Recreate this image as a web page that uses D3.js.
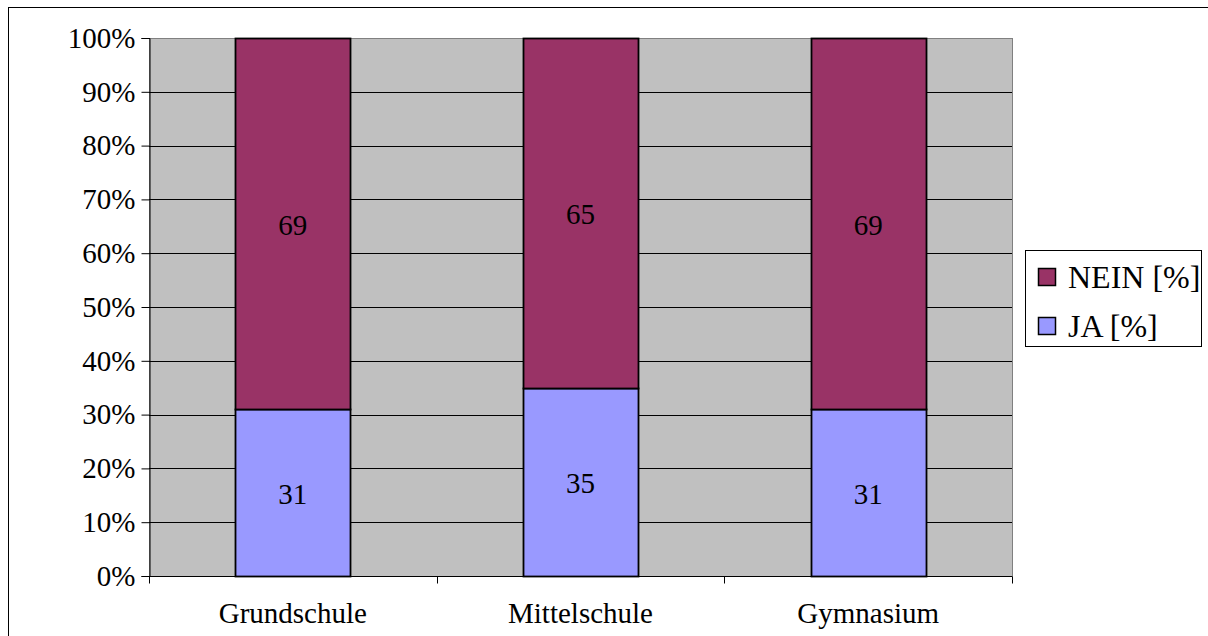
<!DOCTYPE html>
<html>
<head>
<meta charset="utf-8">
<script src="https://cdn.jsdelivr.net/npm/d3@7"></script>
</head>
<body style="margin:0; background:#fff">
<svg id="chart" width="1208" height="636"></svg>
<script>
var categories = ['Grundschule', 'Mittelschule', 'Gymnasium'];
var jaValues = [31, 35, 31];
var neinValues = [69, 65, 69];
var yTicks = [0, 10, 20, 30, 40, 50, 60, 70, 80, 90, 100];
var seriesNames = ['NEIN [%]', 'JA [%]'];
var seriesColors = ['#993366', '#9999FF'];

var svg = d3.select('#chart');
var fontSize = '29px';

function serifText(sel) {
  sel.style('font-family', 'Liberation Serif')
    .style('font-size', fontSize)
    .attr('fill', '#000');
}

// outer frame
svg.append('rect')
  .attr('x', 8.5).attr('y', 7.5)
  .attr('width', 1300).attr('height', 700)
  .attr('fill', 'none').attr('stroke', '#000');

var plot = { left: 149, top: 38, right: 1012, bottom: 576 };

var x = d3.scaleBand()
  .domain(categories)
  .range([plot.left, plot.right])
  .paddingInner(0.6)
  .paddingOuter(0.3);

var xCat = d3.scaleBand().domain(categories).range([plot.left, plot.right]);

var y = d3.scaleLinear().domain([0, 100]).range([plot.bottom, plot.top]);

// plot background
svg.append('rect')
  .attr('x', plot.left + 0.5).attr('y', plot.top + 0.5)
  .attr('width', plot.right - plot.left).attr('height', plot.bottom - plot.top)
  .attr('fill', '#C0C0C0').attr('stroke', '#808080');

// gridlines
svg.append('g').selectAll('line')
  .data(yTicks.slice(1, -1))
  .enter().append('line')
  .attr('x1', plot.left).attr('x2', plot.right)
  .attr('y1', function(d) { return Math.round(y(d)) + 0.5; })
  .attr('y2', function(d) { return Math.round(y(d)) + 0.5; })
  .attr('stroke', '#000');

// stacked bars
var stackData = categories.map(function(c, i) {
  return { cat: c, ja: jaValues[i], nein: neinValues[i] };
});
var stack = d3.stack().keys(['ja', 'nein'])(stackData);
var colorFor = { ja: '#9999FF', nein: '#993366' };

stack.forEach(function(layer) {
  var g = svg.append('g');
  g.selectAll('rect')
    .data(layer)
    .enter().append('rect')
    .attr('x', function(d) { return Math.round(x(d.data.cat)) + 0.5; })
    .attr('y', function(d) { return Math.round(y(d[1])) + 0.5; })
    .attr('width', Math.round(x.bandwidth()))
    .attr('height', function(d) { return Math.round(y(d[0])) - Math.round(y(d[1])); })
    .attr('fill', colorFor[layer.key])
    .attr('stroke', '#000')
    .attr('stroke-width', 1.8);
  g.selectAll('text')
    .data(layer)
    .enter().append('text')
    .attr('x', function(d) { return x(d.data.cat) + x.bandwidth() / 2; })
    .attr('y', function(d) { return (y(d[0]) + y(d[1])) / 2 + 1; })
    .attr('dy', '0.35em')
    .attr('text-anchor', 'middle')
    .call(serifText)
    .text(function(d) { return d.data[layer.key]; });
});

// y axis
var yAxis = svg.append('g')
  .attr('transform', 'translate(' + (plot.left + 0.5) + ',0)')
  .call(d3.axisLeft(y).tickValues(yTicks).tickSize(8).tickPadding(6)
    .tickFormat(function(d) { return d + '%'; }));
yAxis.select('.domain').attr('stroke', '#000');
yAxis.selectAll('.tick line').attr('stroke', '#000');
yAxis.selectAll('text').call(serifText);

// x axis
var xAxis = svg.append('g')
  .attr('transform', 'translate(0,' + (plot.bottom + 0.5) + ')');
xAxis.append('line')
  .attr('x1', plot.left).attr('x2', plot.right)
  .attr('stroke', '#000');
var bounds = [plot.left].concat(categories.map(function(c) { return xCat(c) + xCat.bandwidth(); }));
xAxis.selectAll('line.tick')
  .data(bounds)
  .enter().append('line')
  .attr('class', 'tick')
  .attr('x1', function(d) { return Math.round(d) + 0.5; })
  .attr('x2', function(d) { return Math.round(d) + 0.5; })
  .attr('y1', 0).attr('y2', 7)
  .attr('stroke', '#000');
xAxis.selectAll('text')
  .data(categories)
  .enter().append('text')
  .attr('x', function(d) { return xCat(d) + xCat.bandwidth() / 2; })
  .attr('y', 46)
  .attr('text-anchor', 'middle')
  .call(serifText)
  .text(function(d) { return d; });

// legend
var legend = svg.append('g');
legend.append('rect')
  .attr('x', 1025.5).attr('y', 250.5)
  .attr('width', 176).attr('height', 96)
  .attr('fill', '#fff').attr('stroke', '#000');
var items = legend.selectAll('g.item')
  .data(seriesNames)
  .enter().append('g')
  .attr('class', 'item')
  .attr('transform', function(d, i) { return 'translate(1038,' + (277 + i * 49) + ')'; });
items.append('rect')
  .attr('x', 0.5).attr('y', -8.5)
  .attr('width', 17).attr('height', 17)
  .attr('fill', function(d, i) { return seriesColors[i]; })
  .attr('stroke', '#000')
  .attr('stroke-width', 1.5);
items.append('text')
  .attr('x', 30).attr('y', 0)
  .attr('dy', '0.35em')
  .call(serifText)
  .style('font-size', '32px')
  .text(function(d) { return d; });
</script>
</body>
</html>
